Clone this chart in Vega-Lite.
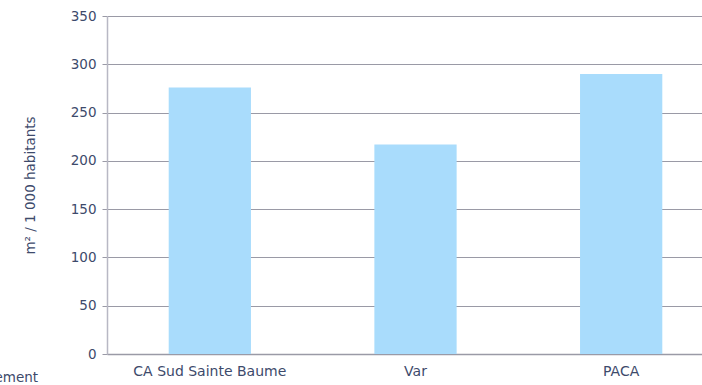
{
  "$schema": "https://vega.github.io/schema/vega-lite/v6.json",
  "autosize": "none",
  "width": 617,
  "height": 338,
  "padding": {"left": 107, "top": 16, "right": 0, "bottom": 31},
  "background": "white",
  "data": {"values": [
    {"zone": "CA Sud Sainte Baume", "valeur": 276},
    {"zone": "Var", "valeur": 217},
    {"zone": "PACA", "valeur": 290}
  ]},
  "mark": {"type": "bar", "color": "#a9dcfc"},
  "encoding": {
    "x": {
      "field": "zone", "type": "nominal", "sort": null,
      "scale": {"paddingInner": 0.6, "paddingOuter": 0.3},
      "axis": {
        "title": "ement", "titleAnchor": "start", "titleAlign": "left",
        "titleX": -113, "titleY": 23, "titleBaseline": "middle",
        "titleFontWeight": "normal", "titleFontSize": 13.5,
        "titleColor": "#3d4a6b", "titleFont": "DejaVu Sans",
        "labelAngle": 0, "labelFont": "DejaVu Sans", "labelFontSize": 14,
        "labelColor": "#3d4a6b", "labelPadding": 10, "ticks": false,
        "domainColor": "#9a9aa6", "domainWidth": 1.5
      }
    },
    "y": {
      "field": "valeur", "type": "quantitative",
      "scale": {"domain": [0, 350], "nice": false},
      "axis": {
        "title": "m² / 1 000 habitants", "values": [0, 50, 100, 150, 200, 250, 300, 350],
        "titleFont": "DejaVu Sans", "titleFontSize": 13.5, "titleFontWeight": "normal",
        "titleColor": "#3d4a6b", "titlePadding": 33,
        "labelFont": "DejaVu Sans", "labelFontSize": 13.5, "labelColor": "#3d4a6b",
        "labelPadding": 6, "tickSize": 5, "tickColor": "#9a9aa6",
        "domainColor": "#b8b8c4", "domainWidth": 1.5,
        "grid": true, "gridColor": "#9a9aa6", "gridWidth": 1
      }
    }
  },
  "config": {"view": {"stroke": null}}
}
